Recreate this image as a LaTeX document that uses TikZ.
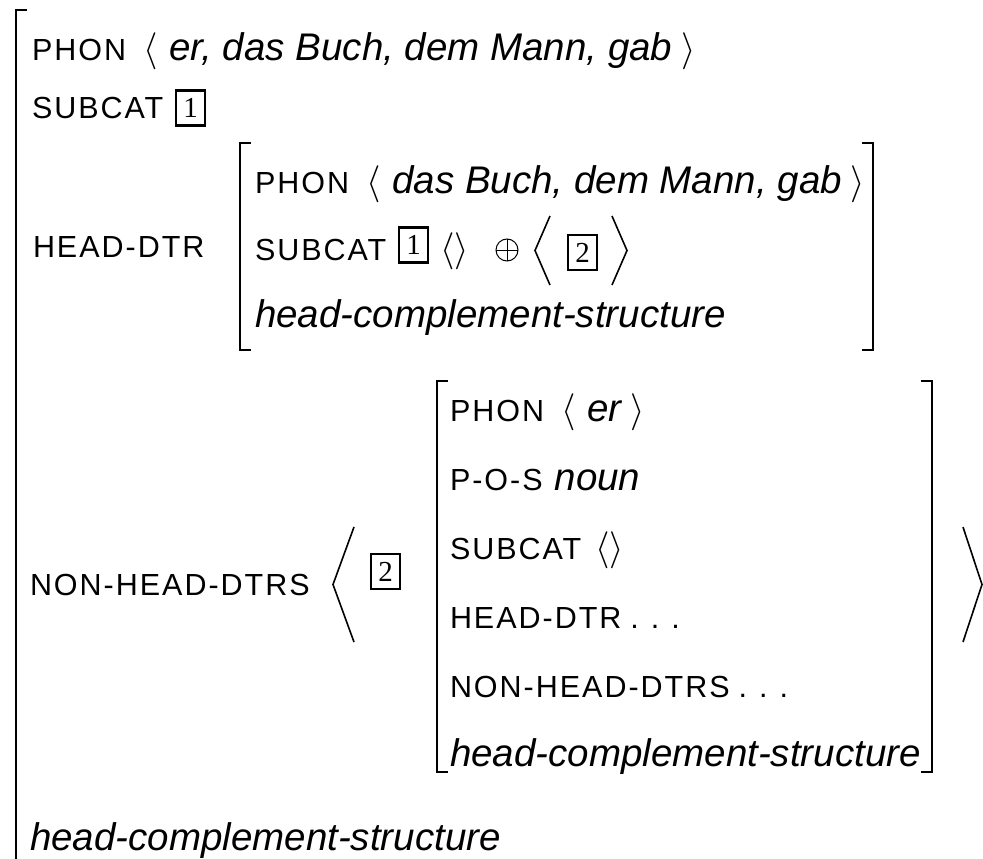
\RequirePackage{fix-cm}
\documentclass[tikz,border=0pt]{standalone}
\usepackage{fontspec}
\setmainfont{Liberation Sans}
\newfontfamily\tagserif{Liberation Serif}
% feature names are set with a little tracking
\newfontfamily\lblfam[LetterSpace=6.5]{Liberation Sans}

% type sizes: feature names, italic values, list brackets
\newcommand\lblsize{\lblfam\fontsize{30.5}{36}\selectfont}
\newcommand\valit[1]{{\normalfont\fontsize{38.5}{44}\selectfont\itshape #1}}
\newcommand\angl{\hspace{17pt}{\fontsize{37}{40}\selectfont$\langle$}\hspace{12pt}}
\newcommand\angr{\hspace{9pt}{\fontsize{37}{40}\selectfont$\rangle$}}
\newcommand\emptylist{{\fontsize{37}{40}\selectfont$\langle\rangle$}}
\newcommand\etcdots{\hspace{9pt}.\hspace{12pt}.\hspace{12pt}.}

\begin{document}
\begin{tikzpicture}[x=1pt,y=-1pt,
  every node/.style={inner sep=0pt, outer sep=0pt},
  row/.style={anchor=base west, font=\lblsize},
  tagbox/.style={draw, line width=2.2pt, minimum width=29pt, minimum height=35pt,
                 font=\tagserif\fontsize{29}{30}\selectfont},
  brkthin/.style={line width=1.3pt, line join=miter},
  brkthick/.style={line width=2.4pt},
  angbr/.style={line width=1.6pt, line join=miter},
  plusnode/.style={circle, draw, line width=1pt, minimum size=22pt}]

\useasboundingbox (0,0) rectangle (983,859);

% ---- outer bracket (open at the bottom) ----
\draw[brkthin] (27,10) -- (16,10) -- (16,100);
\draw[brkthick] (16,100) -- (16,795);
\draw[brkthin] (16,795) -- (16,860);

% ---- top level features ----
\node[row] (r1) at (32,60) {PHON\angl\valit{er, das Buch, dem Mann, gab}\angr};
\node[row] (r2) at (32,118) {SUBCAT};
\node[tagbox] (t1) at (190.5,108) {1};
\node[row] (hd) at (33,257) {HEAD-DTR};

% ---- head daughter ----
\draw[brkthin] (251,143) -- (240,143) -- (240,211);
\draw[brkthick] (240,211) -- (240,282);
\draw[brkthin] (240,282) -- (240,350) -- (251,350);
\draw[brkthin] (862,143) -- (873,143) -- (873,211);
\draw[brkthick] (873,211) -- (873,282);
\draw[brkthin] (873,282) -- (873,350) -- (862,350);

\node[row] (a1) at (255,193) {PHON\angl\valit{das Buch, dem Mann, gab}\angr};
\node[row] (a2) at (255,260) {SUBCAT};
\node[tagbox] (t1b) at (413.5,245) {1};
\node[row] (a2e) at (440,260) {\emptylist};
\node[plusnode] (op) at (507,250) {};
\draw[line width=1pt] (op.north) -- (op.south) (op.west) -- (op.east);
\draw[angbr] (550,216) -- (535,250.5) -- (550,285);
\node[tagbox] (t2a) at (582.5,252.5) {2};
\draw[angbr] (612,216) -- (627,250.5) -- (612,285);
\node[row] (a3) at (255,327) {\valit{head-complement-structure}};

% ---- non-head daughters ----
\node[row] (nh) at (30,595) {NON-HEAD-DTRS};
\draw[angbr] (354,527) -- (333,584.5) -- (354,642);
\node[tagbox] (t2b) at (385.5,571.5) {2};

\draw[brkthin] (448,381) -- (437,381) -- (437,449);
\draw[brkthick] (437,449) -- (437,704);
\draw[brkthin] (437,704) -- (437,772) -- (448,772);
\draw[brkthin] (921,381) -- (932,381) -- (932,449);
\draw[brkthick] (932,449) -- (932,704);
\draw[brkthin] (932,704) -- (932,772) -- (921,772);

\node[row] (b1) at (450,421) {PHON\angl\valit{er}\angr};
\node[row] (b2) at (450,490) {P-O-S\hspace{12pt}\valit{noun}};
\node[row] (b3) at (450,559) {SUBCAT\hspace{14pt}\emptylist};
\node[row] (b4) at (450,628) {HEAD-DTR\etcdots};
\node[row] (b5) at (450,697) {NON-HEAD-DTRS\etcdots};
\node[row] (b6) at (450,766) {\valit{head-complement-structure}};

\draw[angbr] (963,527) -- (982,584.5) -- (963,642);

% ---- type of the whole structure ----
\node[row] (bt) at (30,850) {\valit{head-complement-structure}};
\end{tikzpicture}
\end{document}
